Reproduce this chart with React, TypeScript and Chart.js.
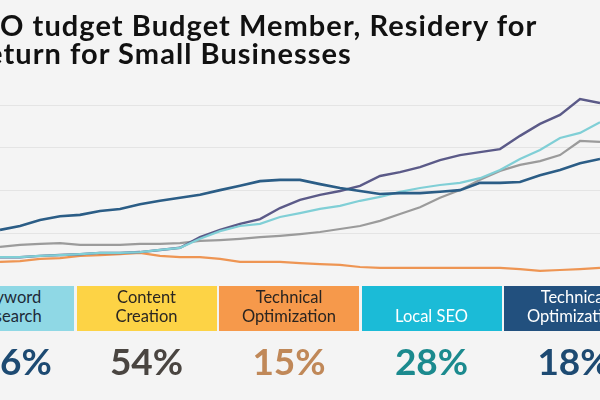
import React, { useEffect, useRef } from "react";
import { Chart, registerables } from "chart.js";

Chart.register(...registerables);

const titleLines = ["O tudget Budget Member, Residery for", "eturn for Small Businesses"];

const periods = [
  "1", "2", "3", "4", "5", "6", "7", "8", "9", "10",
  "11", "12", "13", "14", "15", "16", "17", "18", "19", "20",
  "21", "22", "23", "24", "25", "26", "27", "28", "29", "30", "31",
];

const technicalSeries = [108, 117, 131, 140, 143, 152, 157, 168, 176, 183, 190, 201, 211, 222, 225, 225, 215, 206, 199, 192, 194, 194, 197, 201, 218, 218, 220, 236, 248, 264, 274];
const linkSeries = [44, 44, 47, 49, 51, 54, 54, 56, 61, 66, 91, 108, 122, 133, 159, 178, 190, 199, 211, 234, 243, 255, 271, 283, 290, 297, 328, 356, 377, 414, 405];
const localSeries = [44, 44, 47, 49, 51, 54, 54, 56, 61, 66, 87, 105, 117, 122, 138, 147, 157, 164, 176, 185, 197, 206, 213, 218, 229, 248, 274, 295, 323, 335, 360];
const contentSeries = [68, 73, 75, 77, 73, 73, 73, 75, 75, 77, 82, 84, 87, 91, 94, 98, 103, 110, 117, 129, 145, 161, 183, 201, 225, 246, 260, 269, 283, 316, 314];
const paidSeries = [33, 35, 40, 42, 47, 49, 51, 54, 47, 44, 44, 40, 33, 33, 33, 30, 28, 26, 21, 19, 19, 19, 19, 19, 19, 19, 16, 12, 14, 16, 19];

const categoryTop = ["Keyword", "Content", "Technical", "", "Technical"];
const categoryBottom = ["Research", "Creation", "Optimization", "Local SEO", "Optimization"];
const shareLabels = ["6%", "54%", "15%", "28%", "18%"];

const boxColors = ["#8fd8e5", "#fdd345", "#f6994b", "#1bbbd7", "#22507e"];
const boxTextColors = ["#1d2a38", "#2a2622", "#2a2420", "#ffffff", "#ffffff"];
const shareColors = ["#1d4a72", "#4a4541", "#c08858", "#1b8a8e", "#1d4a72"];

export default function App() {
  const canvasRef = useRef<HTMLCanvasElement>(null);

  useEffect(() => {
    const chart = new Chart(canvasRef.current as HTMLCanvasElement, {
      type: "line",
      data: {
        labels: periods,
        datasets: [
          { label: "Paid", data: paidSeries, borderColor: "#ee9553", borderWidth: 2.2, order: 5 },
          { label: "Content", data: contentSeries, borderColor: "#9b9b9b", borderWidth: 2.2, order: 4 },
          { label: "Link", data: linkSeries, borderColor: "#5b5a88", borderWidth: 2.4, order: 3 },
          { label: "Local", data: localSeries, borderColor: "#80cfd6", borderWidth: 2.2, order: 2 },
          { label: "Technical", data: technicalSeries, borderColor: "#2b5d86", borderWidth: 2.6, order: 1 },
        ],
      },
      options: {
        responsive: false,
        animation: false,
        maintainAspectRatio: false,
        elements: { point: { radius: 0 }, line: { tension: 0 } },
        layout: { padding: { top: 88, bottom: 124, left: 0, right: 0 } },
        plugins: { legend: { display: false }, tooltip: { enabled: false }, title: { display: false } },
        scales: {
          x: { display: false, offset: false },
          y: {
            display: true,
            min: 0,
            max: 440,
            ticks: { display: false, stepSize: 100, includeBounds: false },
            border: { display: false },
            grid: {
              drawTicks: false,
              color: (ctx: any) => (ctx.tick && ctx.tick.value === 0 ? "rgba(0,0,0,0)" : "#e4e4e4"),
              lineWidth: 1,
            },
          },
        },
      },
    });
    return () => chart.destroy();
  }, []);

  return (
    <div
      style={{
        position: "fixed",
        left: 0,
        top: 0,
        width: 600,
        height: 400,
        overflow: "hidden",
        background: "#f4f4f4",
        fontFamily: "Lato, 'Open Sans', sans-serif",
      }}
    >
      <canvas ref={canvasRef} width={600} height={400} style={{ position: "absolute", left: 0, top: 0 }} />
      <div
        style={{
          position: "absolute",
          left: 0,
          top: 11,
          fontSize: 29,
          fontWeight: 700,
          letterSpacing: "1.05px",
          lineHeight: "28px",
          color: "#111111",
          whiteSpace: "nowrap",
        }}
      >
        <div style={{ marginLeft: 0 }}>{titleLines[0]}</div>
        <div style={{ marginLeft: -13 }}>{titleLines[1]}</div>
      </div>
      {categoryBottom.map((label, i) => (
        <div
          key={"box" + i}
          style={{
            position: "absolute",
            left: -66 + i * 142.5,
            top: 286,
            width: 140,
            height: 45,
            background: boxColors[i],
            color: boxTextColors[i],
            fontSize: 16.5,
            lineHeight: "19px",
            textAlign: "center",
            display: "flex",
            flexDirection: "column",
            justifyContent: "flex-end",
            paddingBottom: 5,
            paddingLeft: i === 0 ? 10 : 0,
            boxSizing: "border-box",
            whiteSpace: "nowrap",
          }}
        >
          <div>{categoryTop[i] || "\u00a0"}</div>
          <div>{label}</div>
        </div>
      ))}
      {shareLabels.map((s, i) => (
        <div
          key={"share" + i}
          style={{
            position: "absolute",
            left: i === 0 ? 0 : -66 + i * 142.5,
            top: 339,
            width: i === 0 ? 100 : 140,
            textAlign: i === 0 ? "left" : "center",
            fontSize: 37,
            fontWeight: 700,
            lineHeight: "44px",
            color: shareColors[i],
            whiteSpace: "nowrap",
          }}
        >
          {s}
        </div>
      ))}
    </div>
  );
}
